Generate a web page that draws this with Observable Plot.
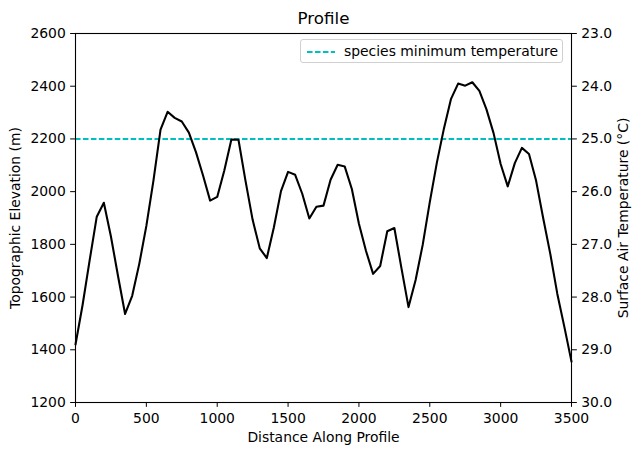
<!DOCTYPE html>
<html>
<head>
<meta charset="utf-8">
<script src="https://cdn.jsdelivr.net/npm/d3@7"></script>
<script src="https://cdn.jsdelivr.net/npm/@observablehq/plot@0.6"></script>
<style>
  html, body { margin: 0; padding: 0; background: #fff; }
  #wrap { position: relative; width: 640px; height: 455px; font-family: "DejaVu Sans", sans-serif; }
  #legend {
    position: absolute; left: 300px; top: 39px; width: 263px; height: 24px;
    border: 1px solid #d0d0d0; border-radius: 3px; background: rgba(255,255,255,0.8);
    box-sizing: border-box;
  }
  #legend svg { position: absolute; left: 5px; top: 6px; }
  #legend span { position: absolute; left: 43px; top: 2px; font-size: 13.9px; line-height: 18px; color: #000; white-space: nowrap; }
</style>
</head>
<body>
<div id="wrap"></div>
<script>
const distance = [0, 50, 100, 150, 200, 250, 300, 350, 400, 450, 500, 550, 600, 650, 700, 750, 800, 850, 900, 950,
  1000, 1050, 1100, 1150, 1200, 1250, 1300, 1350, 1400, 1450, 1500, 1550, 1600, 1650, 1700, 1750, 1800, 1850, 1900, 1950,
  2000, 2050, 2100, 2150, 2200, 2250, 2300, 2350, 2400, 2450, 2500, 2550, 2600, 2650, 2700, 2750, 2800, 2850, 2900, 2950,
  3000, 3050, 3100, 3150, 3200, 3250, 3300, 3350, 3400, 3450, 3500];
const elevation = [1420, 1570, 1740, 1905, 1958, 1830, 1680, 1536, 1605, 1726, 1870, 2042, 2235, 2303, 2280, 2266, 2224, 2150, 2061, 1966,
  1980, 2080, 2198, 2197, 2040, 1893, 1785, 1748, 1865, 2002, 2075, 2064, 1992, 1898, 1943, 1947, 2045, 2102, 2095, 2010,
  1878, 1775, 1688, 1718, 1850, 1862, 1710, 1562, 1665, 1798, 1960, 2110, 2240, 2352, 2410, 2402, 2415, 2382, 2312, 2222,
  2105, 2020, 2108, 2166, 2143, 2042, 1900, 1765, 1612, 1486, 1355];
const xTicks = [0, 500, 1000, 1500, 2000, 2500, 3000, 3500];
const elevTicks = [1200, 1400, 1600, 1800, 2000, 2200, 2400, 2600];
const tempTicks = [23, 24, 25, 26, 27, 28, 29, 30];
const speciesMinTemp = 25;
const legendLabel = "species minimum temperature";

// linear relation between the two y axes (23.0 °C at 2600 m, 30.0 °C at 1200 m)
const elevTop = 2600, tempTop = 23, mPerDeg = 200;
const tempToElev = t => elevTop - (t - tempTop) * mPerDeg;
const elevToTemp = e => tempTop + (elevTop - e) / mPerDeg;

const profile = distance.map((d, i) => ({distance: d, elevation: elevation[i]}));
const ts = 4.86, tp = 4.86;

const chart = Plot.plot({
  width: 640, height: 455,
  marginLeft: 75, marginRight: 69, marginTop: 33, marginBottom: 53,
  style: {fontFamily: "DejaVu Sans", fontSize: "13.9px", color: "#000", background: "#fff"},
  x: {domain: [0, 3500]},
  y: {domain: [1200, 2600]},
  marks: [
    Plot.ruleY([tempToElev(speciesMinTemp)], {stroke: "#00bfbf", strokeWidth: 2.08, strokeDasharray: "5.55,2.4"}),
    Plot.line(profile, {x: "distance", y: "elevation", stroke: "black", strokeWidth: 2.08}),
    Plot.frame({stroke: "black", strokeWidth: 1.1}),
    Plot.axisX({ticks: xTicks, tickFormat: "d", tickSize: ts, tickPadding: tp + 1, label: null, fontSize: 13.9}),
    Plot.axisY({ticks: elevTicks, tickFormat: "d", tickSize: ts, tickPadding: tp, label: null, fontSize: 13.9}),
    Plot.axisY({anchor: "right", ticks: tempTicks.map(tempToElev), tickFormat: e => elevToTemp(e).toFixed(1),
      tickSize: ts, tickPadding: tp, label: null, fontSize: 13.9}),
    Plot.text(["Profile"], {frameAnchor: "top", lineAnchor: "top", dy: -21.3, fontSize: 16.7}),
    Plot.text(["Distance Along Profile"], {frameAnchor: "bottom", lineAnchor: "top", dy: 30, fontSize: 13.9}),
    Plot.text(["Topographic Elevation (m)"], {frameAnchor: "left", textAnchor: "middle", lineAnchor: "top", rotate: -90, dx: -65, fontSize: 13.9}),
    Plot.text(["Surface Air Temperature (°C)"], {frameAnchor: "right", textAnchor: "middle", lineAnchor: "top", rotate: -90, dx: 46.3, fontSize: 13.9})
  ]
});

const wrap = document.getElementById("wrap");
wrap.appendChild(chart);
const legend = document.createElement("div");
legend.id = "legend";
legend.innerHTML = `<svg width="30" height="12"><line x1="1" x2="29" y1="6" y2="6" stroke="#00bfbf" stroke-width="2.08" stroke-dasharray="5.55,2.4"/></svg><span>${legendLabel}</span>`;
wrap.appendChild(legend);
</script>
</body>
</html>
